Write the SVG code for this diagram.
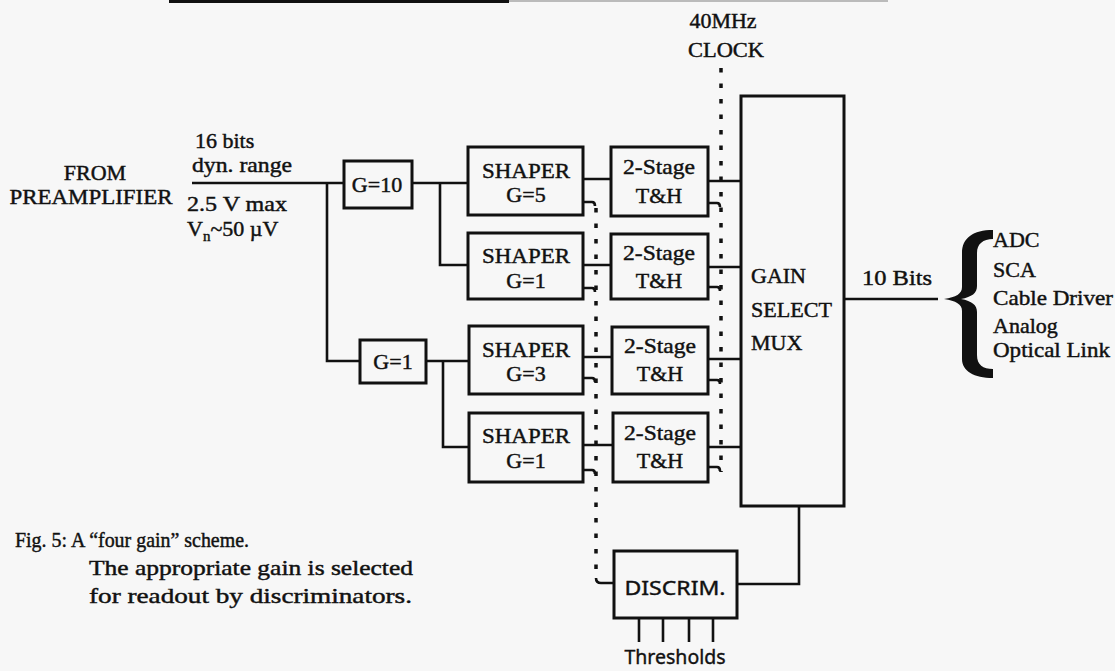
<svg xmlns="http://www.w3.org/2000/svg" width="1115" height="671" viewBox="0 0 1115 671">
<style>
.box{fill:none;stroke:#111;stroke-width:3}
.wire{fill:none;stroke:#111;stroke-width:2.6}
.dot{fill:none;stroke:#111;stroke-width:3.5;stroke-dasharray:4.5 11}
.t{font-family:"Liberation Serif","Times New Roman",serif;font-size:22px;fill:#111;stroke:#111;stroke-width:0.45}
.c{text-anchor:middle}
.s{font-family:"Noto Sans","DejaVu Sans",sans-serif;font-size:20px;fill:#111;stroke:#111;stroke-width:0.4}
</style>
<rect width="1115" height="671" fill="#f7f7f7"/>
<line x1="169" y1="1.5" x2="509" y2="1.5" stroke="#111" stroke-width="3"/>
<line x1="509" y1="1" x2="888" y2="1" stroke="#bbb" stroke-width="2"/>

<g id="connectors">
  <path class="wire" d="M192,183 H344"/>
  <path class="wire" d="M327,183 V361 H360"/>
  <path class="wire" d="M412,183 H468 M440,183 V265 H468"/>
  <path class="wire" d="M426,361 H469 M443,361 V447 H469"/>
  <path class="wire" d="M583,179 H611 M583,265 H611 M583,357 H612 M583,445 H613"/>
  <path class="wire" d="M708,181 H741 M708,267 H741 M708,359 H741 M708,447 H741"/>
  <path class="wire" d="M583,202 H592 q3,0 3,4 M583,288 H592 q3,0 3,4 M583,378 H592 q3,0 3,4 M583,470 H592 q3,0 3,4"/>
  <path class="wire" d="M708,203 H717 q3,0 3,4 M708,287 H717 q3,0 3,4 M708,380 H717 q3,0 3,4 M708,467 H717 q3,0 3,4"/>
  <path class="dot" d="M596,208 V575"/>
  <path class="dot" d="M721,68 V472"/>
  <path class="wire" d="M596,578 q0,5 5,5 H614"/>
  <path class="wire" d="M799,506 V584 H737"/>
  <path class="wire" d="M844,299 H938"/>
  <path class="wire" d="M639,618 V642 M663,618 V642 M689,618 V642 M713,618 V642"/>
</g>

<g id="source">
  <text class="t c" x="95" y="180">FROM</text>
  <text class="t c" x="91" y="204" textLength="163" lengthAdjust="spacingAndGlyphs">PREAMPLIFIER</text>
</g>
<g id="input-label">
  <text class="t" x="195" y="148">16 bits</text>
  <text class="t" x="192" y="172" textLength="100" lengthAdjust="spacingAndGlyphs">dyn. range</text>
  <text class="t" x="187" y="211" font-size="21" textLength="100" lengthAdjust="spacingAndGlyphs">2.5 V max</text>
  <text class="t" x="187" y="236" font-size="21">V<tspan dy="5" font-size="15">n</tspan><tspan dy="-5">~50 µV</tspan></text>
</g>

<g id="g10">
  <rect class="box" x="344" y="161" width="68" height="47"/>
  <text class="t c" x="377" y="192">G=10</text>
</g>
<g id="g1">
  <rect class="box" x="360" y="340" width="66" height="43"/>
  <text class="t c" x="393" y="369">G=1</text>
</g>

<g id="shaper1">
  <rect class="box" x="468" y="147" width="115" height="68"/>
  <text class="t c" x="526" y="178" textLength="88" lengthAdjust="spacingAndGlyphs">SHAPER</text>
  <text class="t c" x="526" y="202">G=5</text>
</g>
<g id="shaper2">
  <rect class="box" x="468" y="233" width="115" height="66"/>
  <text class="t c" x="526" y="263" textLength="88" lengthAdjust="spacingAndGlyphs">SHAPER</text>
  <text class="t c" x="526" y="288">G=1</text>
</g>
<g id="shaper3">
  <rect class="box" x="469" y="326" width="114" height="68"/>
  <text class="t c" x="526" y="357" textLength="88" lengthAdjust="spacingAndGlyphs">SHAPER</text>
  <text class="t c" x="526" y="381">G=3</text>
</g>
<g id="shaper4">
  <rect class="box" x="469" y="413" width="114" height="69"/>
  <text class="t c" x="526" y="443" textLength="88" lengthAdjust="spacingAndGlyphs">SHAPER</text>
  <text class="t c" x="526" y="468">G=1</text>
</g>

<g id="th1">
  <rect class="box" x="611" y="147" width="97" height="69"/>
  <text class="t c" x="659" y="174" textLength="72" lengthAdjust="spacingAndGlyphs">2-Stage</text>
  <text class="t c" x="659" y="203">T&amp;H</text>
</g>
<g id="th2">
  <rect class="box" x="611" y="234" width="97" height="65"/>
  <text class="t c" x="659" y="260" textLength="72" lengthAdjust="spacingAndGlyphs">2-Stage</text>
  <text class="t c" x="659" y="288">T&amp;H</text>
</g>
<g id="th3">
  <rect class="box" x="612" y="327" width="96" height="67"/>
  <text class="t c" x="660" y="353" textLength="72" lengthAdjust="spacingAndGlyphs">2-Stage</text>
  <text class="t c" x="660" y="381">T&amp;H</text>
</g>
<g id="th4">
  <rect class="box" x="613" y="413" width="95" height="69"/>
  <text class="t c" x="660" y="440" textLength="72" lengthAdjust="spacingAndGlyphs">2-Stage</text>
  <text class="t c" x="660" y="468">T&amp;H</text>
</g>

<g id="clock">
  <text class="t c" x="723" y="28" textLength="67" lengthAdjust="spacingAndGlyphs">40MHz</text>
  <text class="t c" x="726" y="57" textLength="76" lengthAdjust="spacingAndGlyphs">CLOCK</text>
</g>

<g id="mux">
  <rect class="box" x="741" y="96" width="103" height="410"/>
  <text class="t" x="751" y="283">GAIN</text>
  <text class="t" x="751" y="317" textLength="81" lengthAdjust="spacingAndGlyphs">SELECT</text>
  <text class="t" x="751" y="350">MUX</text>
</g>

<g id="bits-label">
  <text class="t" x="862" y="285" textLength="70" lengthAdjust="spacingAndGlyphs">10 Bits</text>
</g>

<g id="outputs">
  <path fill="#111" d="M993,230 C973,230 962,238 962,253 L962,287 C962,294 956,297 944,299 C956,301 962,304 962,311 L962,359 C962,371 974,378 993,378 L993,369 C983,369 977,365 977,355 L977,312 C977,305 972,301 961,299 C972,297 977,293 977,286 L977,253 C977,244 983,239 993,239 Z"/>
  <text class="t" x="993" y="247">ADC</text>
  <text class="t" x="993" y="277">SCA</text>
  <text class="t" x="993" y="305" textLength="120" lengthAdjust="spacingAndGlyphs">Cable Driver</text>
  <text class="t" x="993" y="333">Analog</text>
  <text class="t" x="993" y="357" textLength="117" lengthAdjust="spacingAndGlyphs">Optical Link</text>
</g>

<g id="discrim">
  <rect class="box" x="614" y="551" width="123" height="67"/>
  <text class="s c" x="675" y="595" textLength="101" lengthAdjust="spacingAndGlyphs">DISCRIM.</text>
</g>
<g id="thresholds">
  <text class="s c" x="675" y="664" textLength="101" lengthAdjust="spacingAndGlyphs">Thresholds</text>
</g>

<g id="caption">
  <text class="t" x="15" y="547" font-size="21" textLength="234" lengthAdjust="spacingAndGlyphs">Fig. 5: A “four gain” scheme.</text>
  <text class="t" x="89" y="575" font-size="23" textLength="324" lengthAdjust="spacingAndGlyphs">The appropriate gain is selected</text>
  <text class="t" x="89" y="603" font-size="23" textLength="323" lengthAdjust="spacingAndGlyphs">for readout by discriminators.</text>
</g>
</svg>
